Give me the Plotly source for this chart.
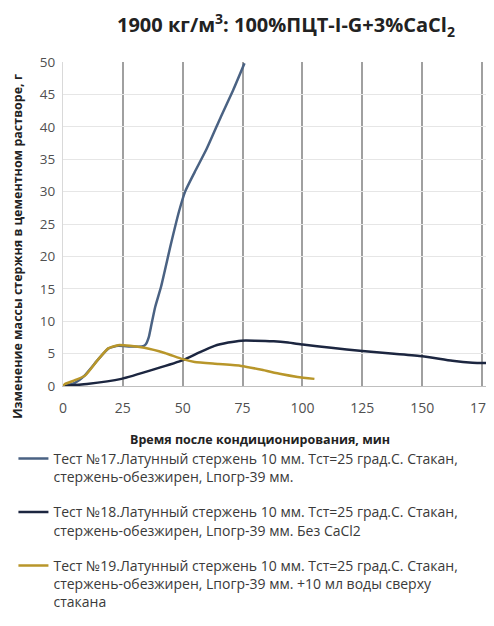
import plotly.graph_objects as go

# Test 17
t17_x = [0, 5, 9, 14.7, 19, 23, 28, 33, 34.5, 35.8, 37, 38.5, 41, 45, 48.5, 51, 55, 60, 66, 71, 75.8]
t17_y = [0, 0.5, 1.6, 4.1, 5.8, 6.2, 6.1, 6.1, 6.4, 7.5, 9.6, 12.2, 15.4, 21.8, 27.0, 30.0, 33.0, 36.6, 41.6, 45.6, 49.8]
# Test 18
t18_x = [0, 10, 24.4, 38.3, 50.1, 57, 63.3, 69, 74.4, 80, 88, 94, 100.1, 112, 125, 137, 150, 162.6, 171, 180]
t18_y = [0, 0.3, 1.1, 2.6, 4.0, 5.2, 6.2, 6.7, 7.0, 7.0, 6.9, 6.7, 6.4, 5.9, 5.4, 5.0, 4.6, 3.9, 3.6, 3.5]
# Test 19
t19_x = [0, 0.8, 5, 9.2, 14.7, 18.9, 23, 28, 34, 42.5, 50, 55, 65, 74.4, 83, 91, 98, 105]
t19_y = [0, 0.3, 0.9, 1.6, 4.1, 5.8, 6.3, 6.2, 5.9, 5.1, 4.15, 3.7, 3.4, 3.1, 2.5, 1.85, 1.4, 1.1]

names = [
    "Тест №17.Латунный стержень 10 мм. Тст=25 град.С. Стакан,<br>стержень-обезжирен, Lпогр-39 мм.",
    "Тест №18.Латунный стержень 10 мм. Тст=25 град.С. Стакан,<br>стержень-обезжирен, Lпогр-39 мм. Без CaCl2",
    "Тест №19.Латунный стержень 10 мм. Тст=25 град.С. Стакан,<br>стержень-обезжирен, Lпогр-39 мм. +10 мл воды сверху<br>стакана",
]
colors = ["#4A6283", "#1C2640", "#B8962A"]

title_text = "1900 кг/м<sup>3</sup>: 100%ПЦТ-I-G+3%CaCl<sub>2</sub>"
x_title = "Время после кондиционирования, мин"
y_title = "Изменение массы стержня в цементном растворе, г"

fig = go.Figure()
for i, (xs, ys) in enumerate([(t17_x, t17_y), (t18_x, t18_y), (t19_x, t19_y)]):
    fig.add_trace(go.Scatter(
        x=xs, y=ys, mode="lines", name=names[i], legendgroup=str(i),
        line=dict(color=colors[i], width=2.5, shape="spline", smoothing=0.5),
    ))

font_fam = "Open Sans, Liberation Sans, sans-serif"
fig.update_layout(
    width=486, height=610,
    margin=dict(l=55, r=0, t=54, b=231),
    paper_bgcolor="white", plot_bgcolor="white",
    font=dict(family=font_fam, color="#404040"),
    showlegend=True,
    legend=dict(
        x=-0.115, y=-0.175, xanchor="left", yanchor="top",
        font=dict(size=14, color="#3A3A3A", family=font_fam),
        tracegroupgap=14, valign="top", bgcolor="rgba(0,0,0,0)",
    ),
    xaxis=dict(
        range=[0, 180], dtick=25, tick0=0, showgrid=True,
        gridcolor="#A0A0A0", gridwidth=2, zeroline=False,
        showline=True, linecolor="#BFBFBF", linewidth=1,
        ticks="", tickfont=dict(size=14, color="#505050"),
        ticklabeloverflow="allow", ticklabelstandoff=9,
    ),
    yaxis=dict(
        range=[0, 50], dtick=5, tick0=0, showgrid=True,
        gridcolor="#E6E6E6", gridwidth=1, zeroline=False,
        showline=True, linecolor="#D9D9D9", linewidth=1,
        ticks="", tickfont=dict(size=13.5, color="#505050"),
        ticklabelstandoff=4,
    ),
    annotations=[
        dict(text="<b>" + title_text + "</b>", xref="paper", yref="paper",
             x=0.517, y=1.0, yshift=37, xanchor="center", yanchor="middle",
             showarrow=False, font=dict(size=20, color="#222222", family=font_fam)),
        dict(text="<b>" + x_title + "</b>", xref="paper", yref="paper",
             x=0.457, y=0, yshift=-53, xanchor="center", yanchor="middle",
             showarrow=False, font=dict(size=12.5, color="#222222", family=font_fam)),
        dict(text="<b>" + y_title + "</b>", xref="paper", yref="paper",
             x=0, xshift=-45, y=0.43, xanchor="center", yanchor="middle",
             textangle=-90, showarrow=False,
             font=dict(size=12.5, color="#222222", family=font_fam)),
    ],
)

fig.write_html("out.html")
